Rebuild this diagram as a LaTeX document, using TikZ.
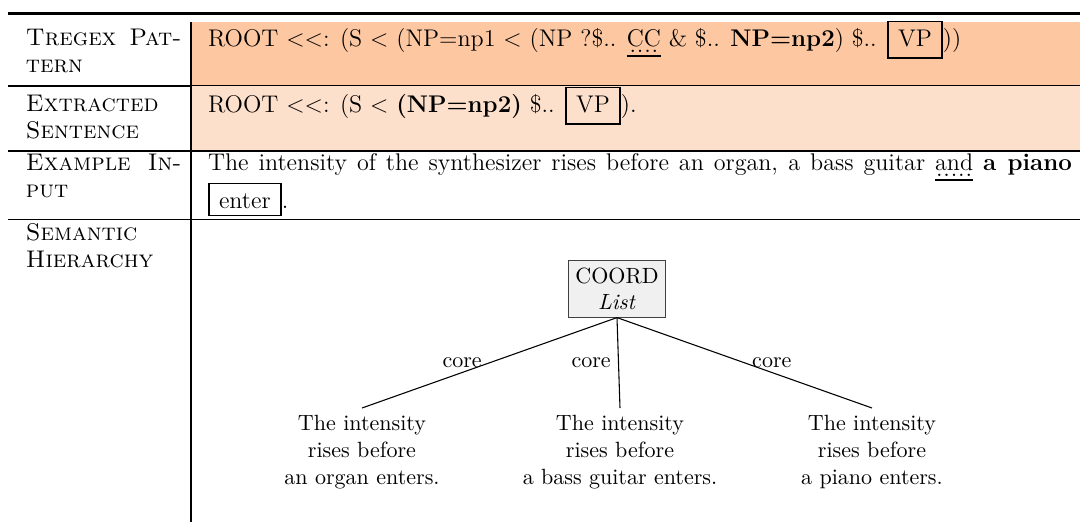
\documentclass[tikz,border=0pt]{standalone}
\usepackage{tikz}
\definecolor{rowA}{RGB}{252,199,161}
\definecolor{rowB}{RGB}{253,224,204}
\definecolor{boxfill}{RGB}{240,240,240}
\newlength\pxl \setlength\pxl{0.462963pt}
\newsavebox\ulbox
\newcommand\bx[2][Ag]{{\setlength\fboxsep{3pt}\setlength\fboxrule{0.8pt}\fbox{\kern1.3pt\vphantom{#1}#2\kern1.3pt}}}
\newcommand\ddul[1]{\sbox\ulbox{#1}\leavevmode\rlap{\raisebox{-3pt}{\hbox to\wd\ulbox{\cleaders\hbox to 3.4pt{\hss.\hss}\hfill}}}\rlap{\rule[-5pt]{\wd\ulbox}{0.9pt}}\usebox\ulbox}
\tikzset{
  txt/.style={anchor=base west, inner sep=0pt, outer sep=0pt, font=\fontsize{11.15}{13.6}\selectfont},
  thickrule/.style={line width=0.8pt},
  thinrule/.style={line width=0.4pt},
  toprl/.style={line width=1.2pt},
  rootbox/.style={draw=black!75, fill=boxfill, align=center, inner sep=3.33pt, line width=0.5pt, font=\fontsize{10.2}{12.2}\selectfont},
  leaf/.style={align=center, inner sep=3.33pt, anchor=north, font=\fontsize{10.2}{12.4}\selectfont},
  edgelbl/.style={inner sep=3.33pt, font=\fontsize{10.2}{12.2}\selectfont},
  treeedge/.style={line width=0.5pt}
}
\begin{document}
\begin{tikzpicture}[x=\pxl,y=-\pxl]
\useasboundingbox (0,0) rectangle (1080,524);
% fills
\fill[rowA] (191,22) rectangle (1080,85.5);
\fill[rowB] (191,85.5) rectangle (1080,151);
% rules
\draw[toprl] (8,13.5) -- (1080,13.5);
\draw[thickrule] (8,86) -- (191,86);
\draw[thinrule] (191,85.5) -- (1080,85.5);
\draw[thickrule] (8,151) -- (1080,151);
\draw[thickrule] (8,219.5) -- (1080,219.5);
\draw[thickrule] (191,22) -- (191,522);
% left column
\node[txt] (l1a) at (26,45) {\hbox to 72pt{\textsc{Tregex Pat-}}};
\node[txt] (l1b) at (26,72) {\textsc{tern}};
\node[txt] (l2a) at (26,111) {\textsc{Extracted}};
\node[txt] (l2b) at (26,138) {\textsc{Sentence}};
\node[txt] (l3a) at (26,170) {\hbox to 72pt{\textsc{Example In-}}};
\node[txt] (l3b) at (26,197) {\textsc{put}};
\node[txt] (l4a) at (26,240) {\textsc{Semantic}};
\node[txt] (l4b) at (26,267) {\textsc{Hierarchy}};
% right column
\node[txt] (r1) at (208,46) {ROOT <{}<: (S < (NP=np1 < (NP ?\$.. \ddul{CC} \& \$.. \textbf{NP=np2}) \$.. \bx{VP}))};
\node[txt] (r2) at (208,112) {ROOT <{}<: (S < \textbf{(NP=np2)} \$.. \bx{VP}).};
\node[txt] (r3a) at (208,170) {\hbox to 400pt{The intensity of the synthesizer rises before an organ, a bass guitar \ddul{and} \textbf{a piano}}};
\node[txt] (r3b) at (208,208) {\bx[A]{enter}.};
% tree
\node[rootbox, anchor=north] (coord) at (617,260) {COORD\\\textit{List}};
\node[leaf] (leafA) at (362,408) {The intensity\\rises before\\an organ enters.};
\node[leaf] (leafB) at (620,408) {The intensity\\rises before\\a bass guitar enters.};
\node[leaf] (leafC) at (872,408) {The intensity\\rises before\\a piano enters.};
\draw[treeedge] (coord.south) -- node[edgelbl, anchor=east] (lblA) {core} (leafA.north);
\draw[treeedge] (coord.south) -- node[edgelbl, anchor=east] (lblB) {core} (leafB.north);
\draw[treeedge] (coord.south) -- node[edgelbl, anchor=west] (lblC) {core} (leafC.north);
\end{tikzpicture}
\end{document}
